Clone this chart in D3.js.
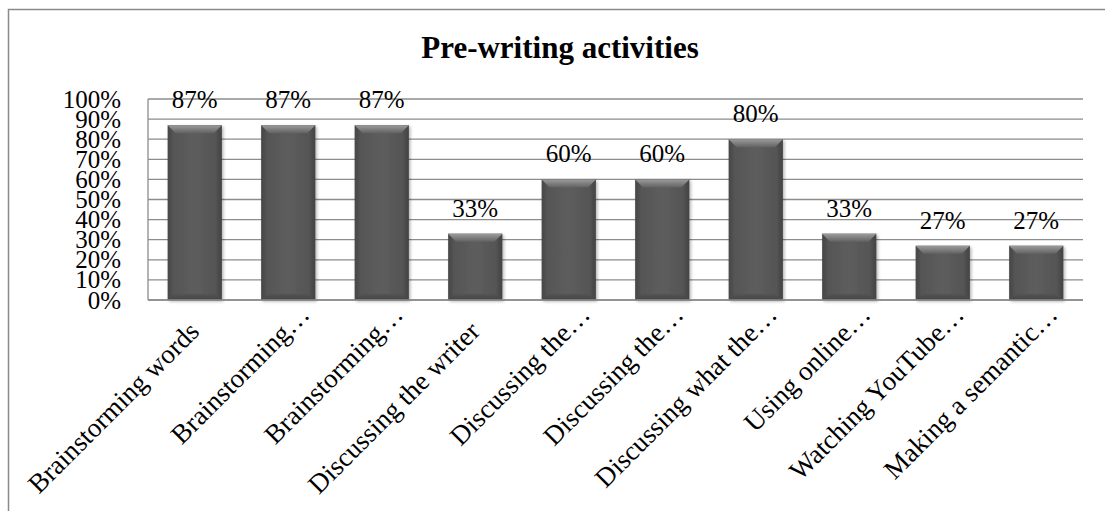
<!DOCTYPE html>
<html>
<head>
<meta charset="utf-8">
<script src="https://cdn.jsdelivr.net/npm/d3@7"></script>
<style>
  html, body { margin: 0; padding: 0; background: #fff; }
  svg { display: block; }
  text { font-family: "Liberation Serif", "Times New Roman", serif; fill: #000; }
</style>
</head>
<body>
<div id="chart"></div>
<script>
// ---- data ----
const title = "Pre-writing activities";
const categories = [
  "Brainstorming words",
  "Brainstorming…",
  "Brainstorming…",
  "Discussing the writer",
  "Discussing the…",
  "Discussing the…",
  "Discussing what the…",
  "Using online…",
  "Watching YouTube…",
  "Making a semantic…"
];
const values = [0.87, 0.87, 0.87, 0.33, 0.60, 0.60, 0.80, 0.33, 0.27, 0.27];
const yTicks = [0, 0.1, 0.2, 0.3, 0.4, 0.5, 0.6, 0.7, 0.8, 0.9, 1.0];

// ---- layout ----
const W = 1105, H = 511;
const plot = { left: 148, right: 1083, top: 99, bottom: 300 };

const svg = d3.select("#chart").append("svg")
  .attr("width", W).attr("height", H);

svg.append("rect").attr("width", W).attr("height", H).attr("fill", "#fff");

const defs = svg.append("defs");
const hg = defs.append("linearGradient").attr("id", "barBody").attr("x1", 0).attr("x2", 1).attr("y1", 0).attr("y2", 0);
hg.append("stop").attr("offset", "0%").attr("stop-color", "#464646");
hg.append("stop").attr("offset", "12%").attr("stop-color", "#565656");
hg.append("stop").attr("offset", "50%").attr("stop-color", "#5d5d5d");
hg.append("stop").attr("offset", "88%").attr("stop-color", "#555");
hg.append("stop").attr("offset", "100%").attr("stop-color", "#424242");
const tg = defs.append("linearGradient").attr("id", "barTop").attr("x1", 0).attr("x2", 0).attr("y1", 0).attr("y2", 1);
tg.append("stop").attr("offset", "0%").attr("stop-color", "#9c9c9c");
tg.append("stop").attr("offset", "100%").attr("stop-color", "#626262");
const bg = defs.append("linearGradient").attr("id", "barBottom").attr("x1", 0).attr("x2", 0).attr("y1", 0).attr("y2", 1);
bg.append("stop").attr("offset", "0%").attr("stop-color", "#545454");
bg.append("stop").attr("offset", "100%").attr("stop-color", "#444");
const sh = defs.append("filter").attr("id", "shadow").attr("x", "-20%").attr("y", "-20%").attr("width", "140%").attr("height", "140%");
sh.append("feDropShadow").attr("dx", 1.5).attr("dy", 1.5).attr("stdDeviation", 1.8)
  .attr("flood-color", "#000").attr("flood-opacity", 0.3);

// outer chart border (right/bottom fall outside the view)
svg.append("rect")
  .attr("x", 8.5).attr("y", 9.5).attr("width", W + 20).attr("height", H + 20)
  .attr("fill", "none").attr("stroke", "#8a8a8a").attr("stroke-width", 1.5);

// title
svg.append("text")
  .attr("x", 560).attr("y", 58)
  .attr("text-anchor", "middle")
  .style("font-size", "31px").style("font-weight", "bold")
  .text(title);

// scales
const x = d3.scaleBand().domain(d3.range(categories.length))
  .range([plot.left, plot.right]).paddingInner(0.42).paddingOuter(0.21);
const y = d3.scaleLinear().domain([0, 1]).range([plot.bottom, plot.top]);

// gridlines
svg.append("g").selectAll("line").data(yTicks).join("line")
  .attr("x1", plot.left).attr("x2", plot.right)
  .attr("y1", d => y(d)).attr("y2", d => y(d))
  .attr("stroke", "#8c8c8c").attr("stroke-width", 1.3);

// left axis line
svg.append("line")
  .attr("x1", plot.left).attr("x2", plot.left)
  .attr("y1", plot.top).attr("y2", plot.bottom)
  .attr("stroke", "#8c8c8c").attr("stroke-width", 1.3);

// y axis labels
const yAxis = d3.axisLeft(y).tickValues(yTicks).tickFormat(d3.format(".0%")).tickSize(0).tickPadding(0);
const ya = svg.append("g").attr("transform", `translate(121,0)`).call(yAxis);
ya.select(".domain").remove();
ya.selectAll("text").style("font-size", "25px")
  .style("font-family", '"Liberation Serif", "Times New Roman", serif').attr("fill", "#000");

// bars
const bev = 8;
const bars = svg.append("g").selectAll("g.bar").data(values).join("g").attr("class", "bar");
bars.append("rect")
  .attr("x", (d, i) => x(i)).attr("y", d => y(d))
  .attr("width", x.bandwidth()).attr("height", d => y(0) - y(d))
  .attr("fill", "url(#barBody)").attr("filter", "url(#shadow)");
bars.append("path")
  .attr("d", (d, i) => {
    const x0 = x(i), x1 = x(i) + x.bandwidth(), t = y(d);
    return `M${x0},${t}L${x1},${t}L${x1 - bev},${t + bev}L${x0 + bev},${t + bev}Z`;
  })
  .attr("fill", "url(#barTop)");
bars.append("path")
  .attr("d", (d, i) => {
    const x0 = x(i), x1 = x(i) + x.bandwidth(), b = y(0), e = 6;
    return `M${x0},${b}L${x1},${b}L${x1 - e},${b - e}L${x0 + e},${b - e}Z`;
  })
  .attr("fill", "url(#barBottom)");

// bottom axis line
svg.append("line")
  .attr("x1", plot.left).attr("x2", plot.right)
  .attr("y1", plot.bottom).attr("y2", plot.bottom)
  .attr("stroke", "#8c8c8c").attr("stroke-width", 1.5);

// data labels
svg.append("g").selectAll("text").data(values).join("text")
  .attr("x", (d, i) => x(i) + x.bandwidth() / 2)
  .attr("y", d => y(d) - 17)
  .attr("text-anchor", "middle")
  .style("font-size", "25px")
  .text(d => d3.format(".0%")(d));

// category labels (rotated -45)
svg.append("g").selectAll("text").data(categories).join("text")
  .attr("transform", (d, i) => `translate(${x(i) + x.bandwidth() / 2 + 6},333) rotate(-45)`)
  .attr("x", d => d.endsWith("…") ? 24 : 0)
  .attr("text-anchor", "end")
  .style("font-size", "27px")
  .text(d => d);
</script>
</body>
</html>
